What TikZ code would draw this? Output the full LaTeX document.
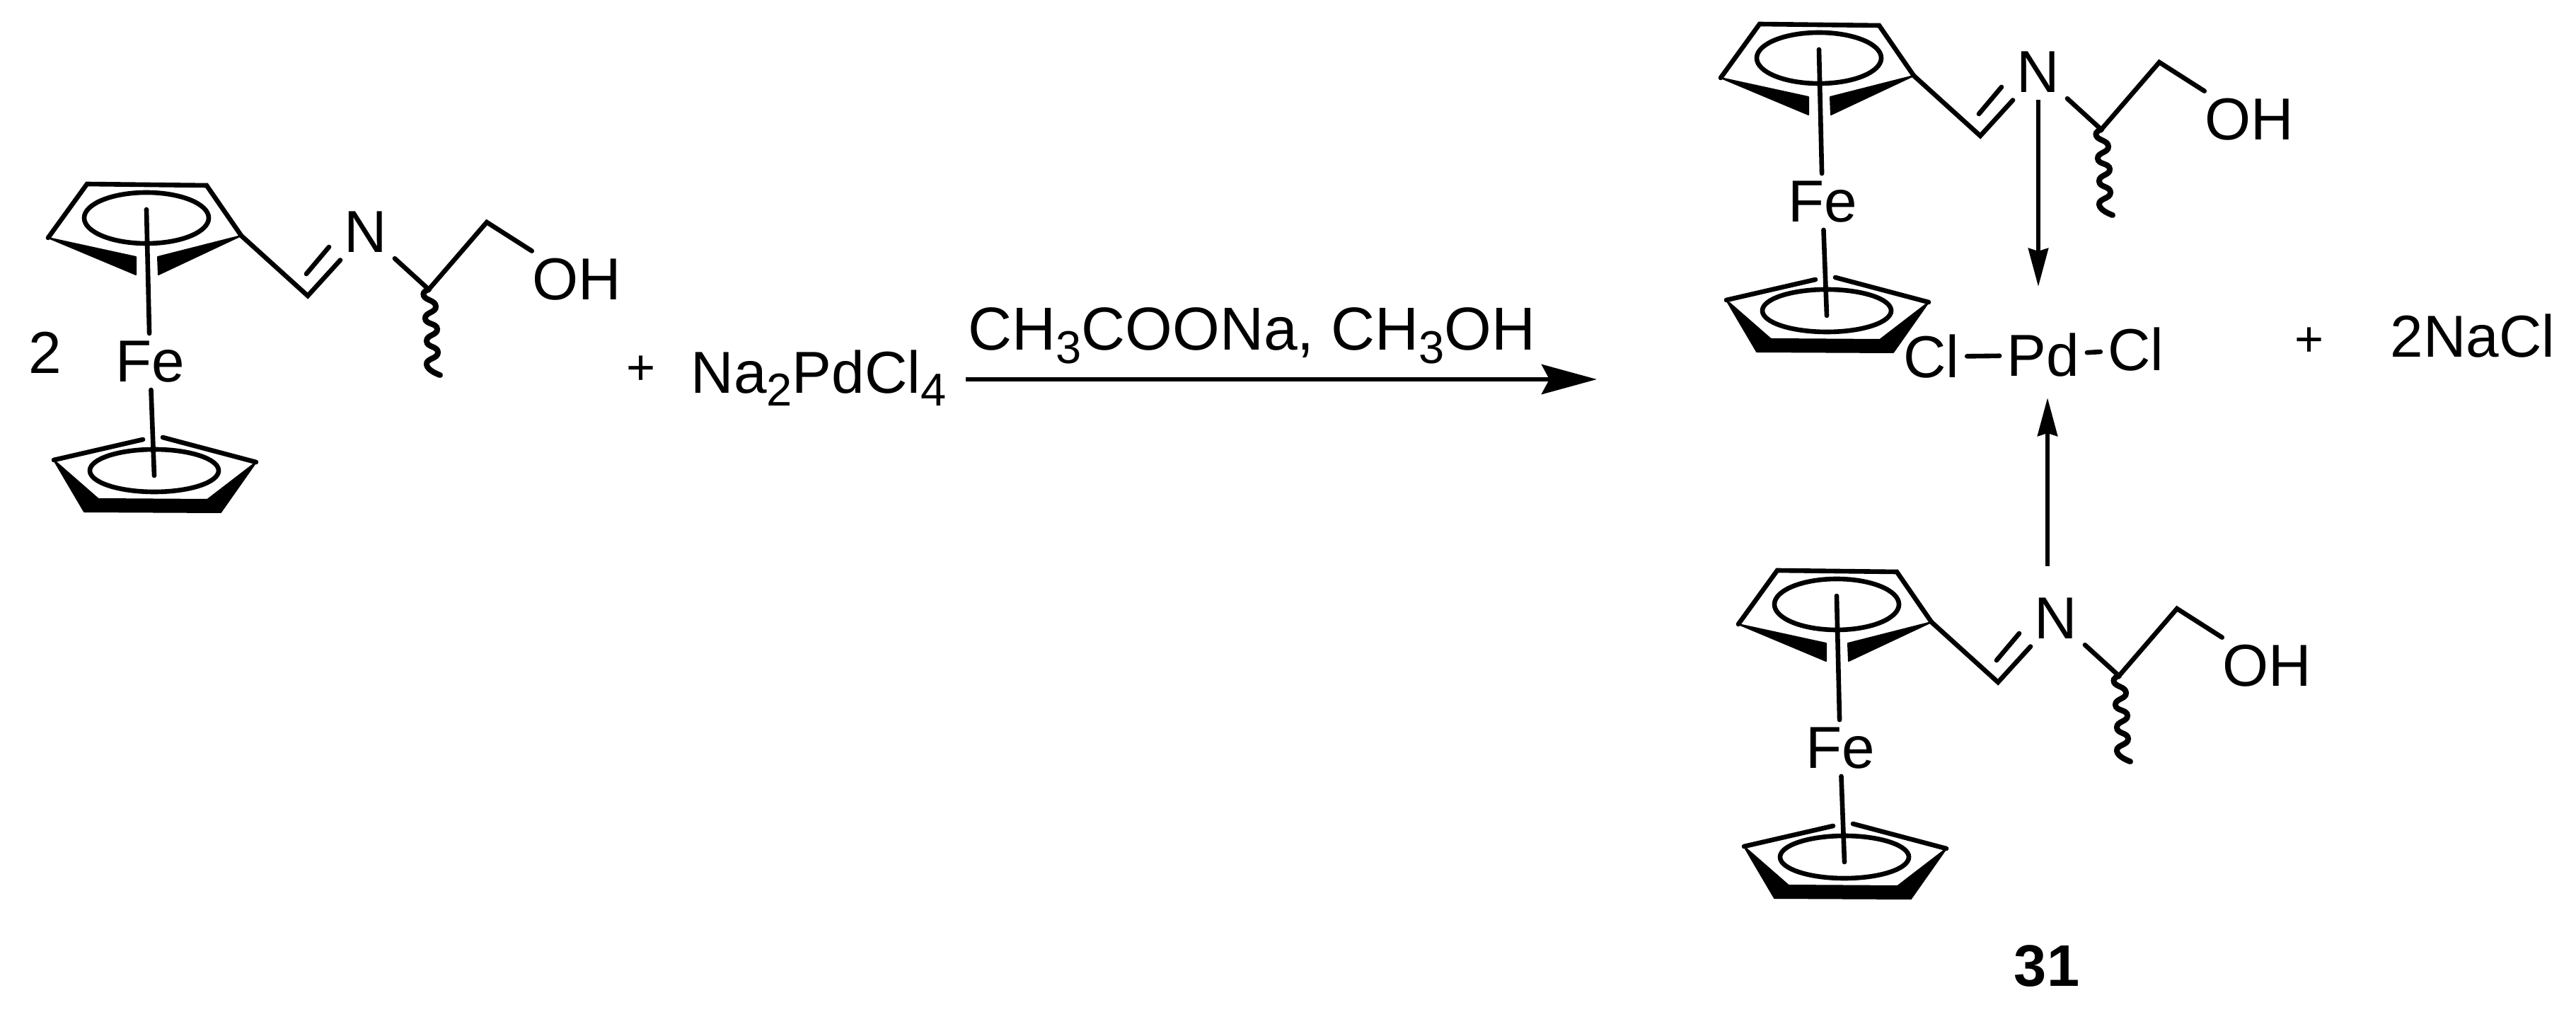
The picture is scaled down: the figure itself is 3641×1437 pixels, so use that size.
\documentclass[tikz,border=0pt]{standalone}
\usepackage{fontspec}
\setmainfont{Liberation Sans}
\usepackage{tikz}
\usetikzlibrary{arrows.meta}
\newcommand{\chemsub}[1]{\raisebox{-0.21em}{\fontsize{18.5}{20}\selectfont #1}}
\tikzset{
bond/.style = { draw = black, line width = 0.066cm, line join = miter, line cap = round },
wavy bond/.style = { bond, line width = 0.08cm },
wedge/.style = { draw = black, fill = black, line width = 0.02cm, line join = round },
dative/.style = { draw = black, line width = 0.062cm, -{Stealth[length = 0.54cm, width = 0.28cm, inset = 0.04cm]} },
rxn arrow/.style = { draw = black, line width = 0.062cm, -{Stealth[length = 0.78cm, width = 0.42cm, inset = 0.11cm]} },
atom/.style = { inner sep = 0.1cm, font = \fontsize{23.8}{28}\selectfont },
}
\tikzset{
pics/ferro imine/.style = {
        code = {
        \node[atom] (Fe) at (212, 511) {Fe};
        \node[atom] (N) at (517, 328) {N};
        \node[atom] (OH) at (815, 395) {OH};
        \coordinate (upper hub) at (207, 296);
        \coordinate (lower hub) at (218, 672);
        \coordinate (ipso) at (341, 333);
        \coordinate (imine) at (435, 418);
        \coordinate (chiral) at (606, 409);
        \coordinate (methylene) at (688, 314);
        % upper ring
        \draw[bond] (68, 336) -- (123, 260) -- (292, 262) -- (ipso);
        \path[wedge] (68, 336) -- (192, 363) -- (192, 388) -- cycle;
        \path[wedge] (ipso) -- (223, 363) -- (224, 388) -- cycle;
        \draw[bond] (207, 308) ellipse (88 and 36);
        \draw[bond] (upper hub) -- (Fe);
        % lower ring
        \draw[bond] (Fe) -- (lower hub);
        \draw[bond] (202, 621) -- (76, 650);
        \draw[bond] (230, 618) -- (362, 653);
        \path[wedge] (76, 650) -- (119, 723) -- (312, 724) -- (362, 653) -- (293, 706) -- (139, 705) -- cycle;
        \draw[bond] (218, 665) ellipse (91 and 30);
        % side chain
        \draw[bond] (ipso) -- (imine) -- (N);
        \draw[bond] (433, 387) -- (465, 349);
        \draw[bond] (N) -- (chiral) -- (methylene) -- (OH);
        \draw[wavy bond] plot[smooth, tension = 1] coordinates {(chiral) (599, 418) (616, 433) (601, 450) (618, 465) (603, 482) (619, 498) (603, 515) (622, 530)};
        }
    }
}
\begin{document}
\begin{tikzpicture}[x = 0.01cm, y = -0.01cm]
    \useasboundingbox (0, 0) rectangle (3641, 1437);
    \node[atom] (two) at (64, 498) {2};
    \draw (0, 0) pic (left) {ferro imine};
    \draw (2364, -226) pic (top) {ferro imine};
    \draw (2389, 546) pic (bot) {ferro imine};
    \node[atom, font = \fontsize{20}{24}\selectfont] (plus one) at (906, 523) {+};
    \node[atom, anchor = base west] (salt) at (966, 556) {Na\chemsub{2}PdCl\chemsub{4}};
    \node[atom, anchor = base west, font = \fontsize{24.4}{28}\selectfont] (reagent) at (1358, 495) {CH\chemsub{3}COONa, CH\chemsub{3}OH};
    \coordinate (rxn start) at (1365, 536);
    \coordinate (rxn end) at (2257, 536);
    \draw[rxn arrow] (rxn start) -- (rxn end);
    \node[atom] (Pd) at (2888, 502) {Pd};
    \node[atom] (Cl left) at (2730, 504) {Cl};
    \node[atom] (Cl right) at (3019, 494) {Cl};
    \draw[bond] (Cl left) -- (Pd);
    \draw[bond] (Pd) -- (Cl right);
    \coordinate (Pd upper) at (2881, 405);
    \coordinate (Pd lower) at (2894, 562);
    \coordinate (bot start) at (2894, 800);
    \draw[dative] (topN.south) -- (Pd upper);
    \draw[dative] (bot start) -- (Pd lower);
    \node[atom, font = \fontsize{20}{24}\selectfont] (plus two) at (3264, 483) {+};
    \node[atom, anchor = base west] (nacl) at (3368, 505) {2NaCl};
    \node[atom, font = \fontsize{23.6}{28}\selectfont\bfseries] (label) at (2893, 1365) {31};
\end{tikzpicture}
\end{document}
